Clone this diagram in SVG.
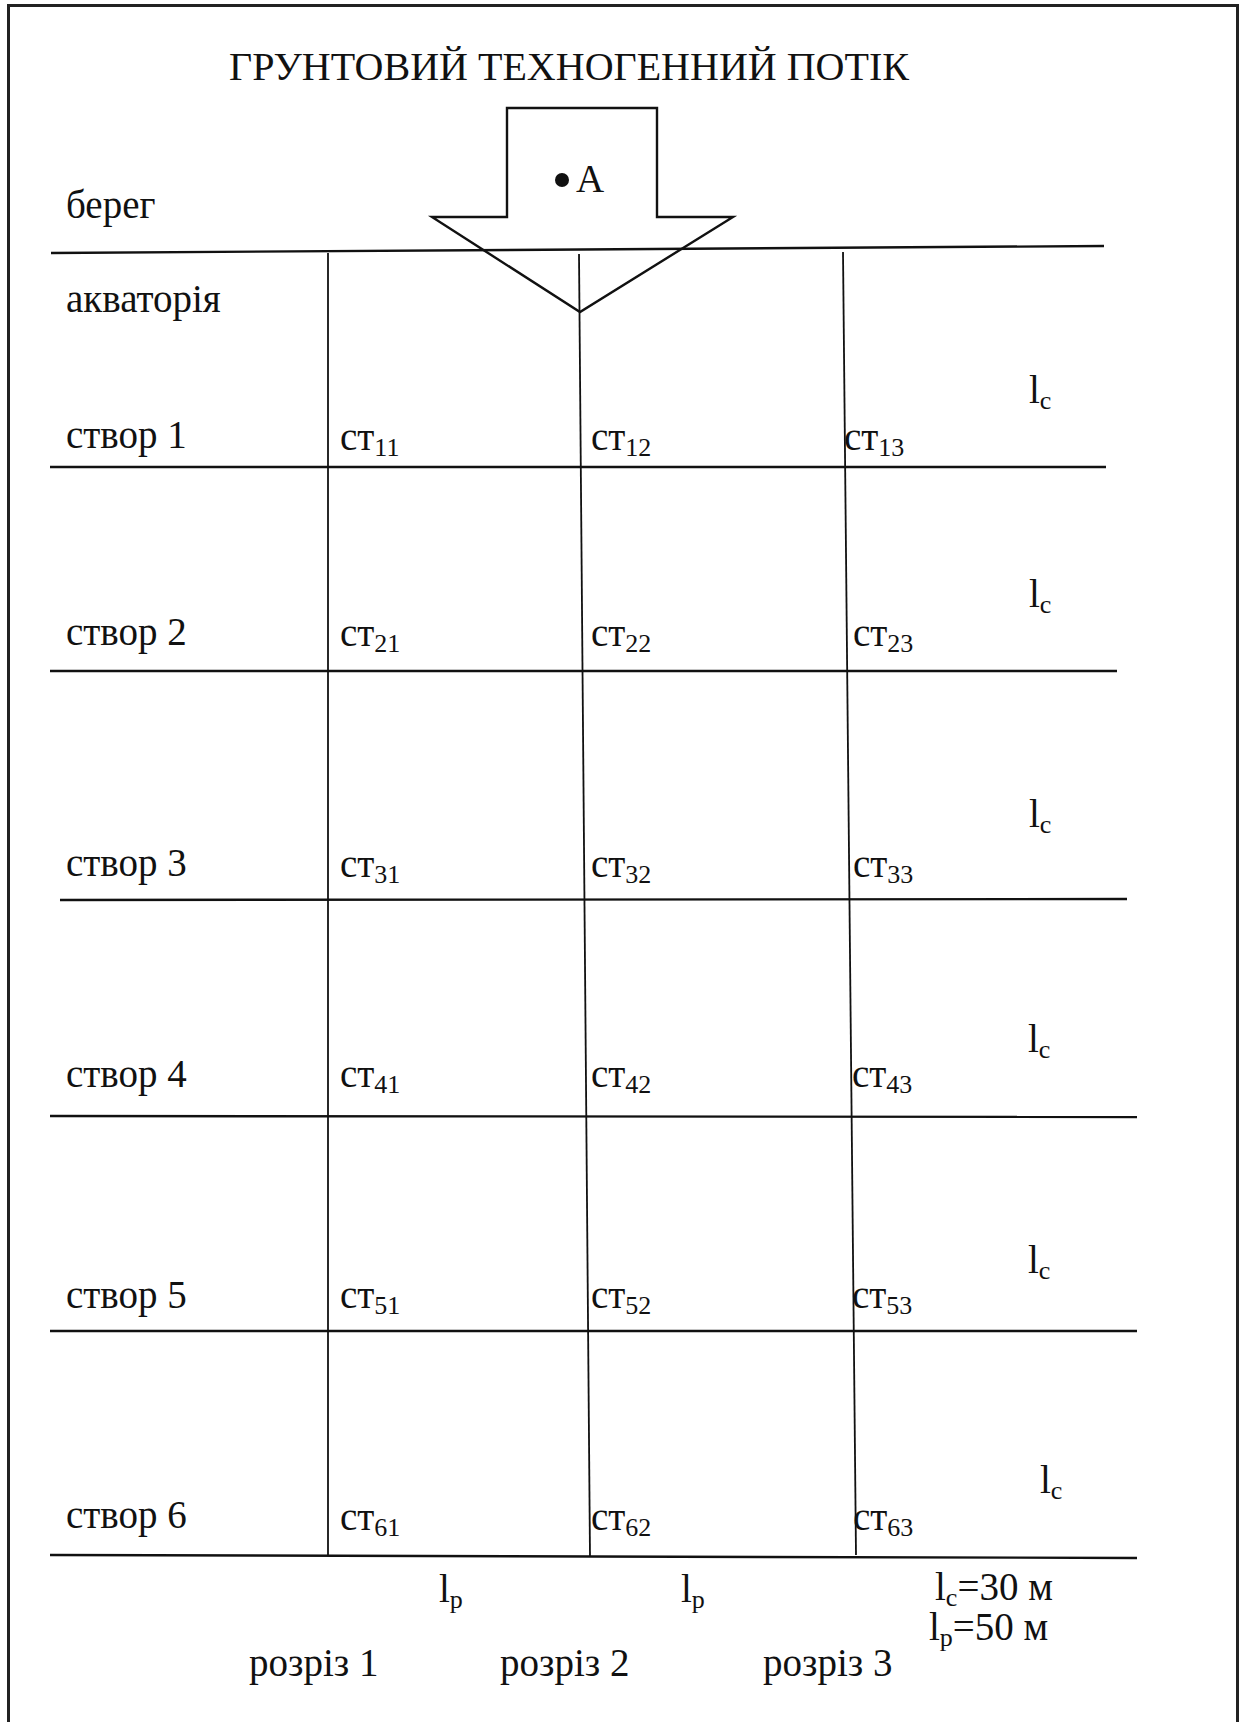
<svg xmlns="http://www.w3.org/2000/svg" width="1240" height="1722" viewBox="0 0 1240 1722">
<style>
text{font-family:"Liberation Serif","Times New Roman",serif;font-size:39px;fill:#111}
.sub{font-size:26px}
.ln{stroke:#111;stroke-width:2.4;fill:none}
.vl{stroke:#111;stroke-width:1.8;fill:none}
</style>
<rect x="0" y="0" width="1240" height="1722" fill="#fff"/>
<path d="M8.5,1722 V5.5 H1237.5 V1722" fill="none" stroke="#222" stroke-width="3"/>
<g id="title"><text x="229" y="80" font-size="42" textLength="680" lengthAdjust="spacingAndGlyphs">ГРУНТОВИЙ ТЕХНОГЕННИЙ ПОТІК</text></g>
<g id="arrow">
<polygon class="ln" points="507,108 657,108 657,217 733,217 580,312 432,217 507,217"/>
<circle cx="562" cy="180" r="7" fill="#111"/>
<text x="576" y="192">A</text>
</g>
<g id="labels-left">
<text x="66" y="218">берег</text>
<text x="66" y="312">акваторія</text>
<text x="66" y="448">створ 1</text>
<text x="66" y="645">створ 2</text>
<text x="66" y="876">створ 3</text>
<text x="66" y="1087">створ 4</text>
<text x="66" y="1308">створ 5</text>
<text x="66" y="1528">створ 6</text>
</g>
<g id="connectors">
<line class="ln" x1="51" y1="253" x2="1104" y2="246"/>
<line class="ln" x1="50" y1="467" x2="1106" y2="467"/>
<line class="ln" x1="50" y1="671" x2="1117" y2="671"/>
<line class="ln" x1="60" y1="900" x2="1127" y2="899"/>
<line class="ln" x1="50" y1="1116" x2="1137" y2="1117"/>
<line class="ln" x1="50" y1="1331" x2="1137" y2="1331"/>
<line class="ln" x1="50" y1="1555" x2="1137" y2="1558"/>
<line class="vl" x1="328" y1="253" x2="328" y2="1555"/>
<line class="vl" x1="579" y1="254" x2="590" y2="1557"/>
<line class="vl" x1="843" y1="252" x2="856" y2="1555"/>
</g>
<g id="stations">
<text x="340" y="450">ст<tspan class="sub" dy="6">11</tspan></text>
<text x="591" y="450">ст<tspan class="sub" dy="6">12</tspan></text>
<text x="844" y="450">ст<tspan class="sub" dy="6">13</tspan></text>
<text x="340" y="646">ст<tspan class="sub" dy="6">21</tspan></text>
<text x="591" y="646">ст<tspan class="sub" dy="6">22</tspan></text>
<text x="853" y="646">ст<tspan class="sub" dy="6">23</tspan></text>
<text x="340" y="877">ст<tspan class="sub" dy="6">31</tspan></text>
<text x="591" y="877">ст<tspan class="sub" dy="6">32</tspan></text>
<text x="853" y="877">ст<tspan class="sub" dy="6">33</tspan></text>
<text x="340" y="1087">ст<tspan class="sub" dy="6">41</tspan></text>
<text x="591" y="1087">ст<tspan class="sub" dy="6">42</tspan></text>
<text x="852" y="1087">ст<tspan class="sub" dy="6">43</tspan></text>
<text x="340" y="1308">ст<tspan class="sub" dy="6">51</tspan></text>
<text x="591" y="1308">ст<tspan class="sub" dy="6">52</tspan></text>
<text x="852" y="1308">ст<tspan class="sub" dy="6">53</tspan></text>
<text x="340" y="1530">ст<tspan class="sub" dy="6">61</tspan></text>
<text x="591" y="1530">ст<tspan class="sub" dy="6">62</tspan></text>
<text x="853" y="1530">ст<tspan class="sub" dy="6">63</tspan></text>
</g>
<g id="lc-labels">
<text x="1029" y="403">l<tspan class="sub" dy="6">c</tspan></text>
<text x="1029" y="607">l<tspan class="sub" dy="6">c</tspan></text>
<text x="1029" y="827">l<tspan class="sub" dy="6">c</tspan></text>
<text x="1028" y="1052">l<tspan class="sub" dy="6">c</tspan></text>
<text x="1028" y="1273">l<tspan class="sub" dy="6">c</tspan></text>
<text x="1040" y="1493">l<tspan class="sub" dy="6">c</tspan></text>
</g>
<g id="bottom">
<text x="439" y="1602">l<tspan class="sub" dy="6">p</tspan></text>
<text x="681" y="1602">l<tspan class="sub" dy="6">p</tspan></text>
<text x="935" y="1600">l<tspan class="sub" dy="6">c</tspan><tspan dy="-6">=30 м</tspan></text>
<text x="929" y="1640">l<tspan class="sub" dy="6">p</tspan><tspan dy="-6">=50 м</tspan></text>
<text x="249" y="1676">розріз 1</text>
<text x="500" y="1676">розріз 2</text>
<text x="763" y="1676">розріз 3</text>
</g>
</svg>
